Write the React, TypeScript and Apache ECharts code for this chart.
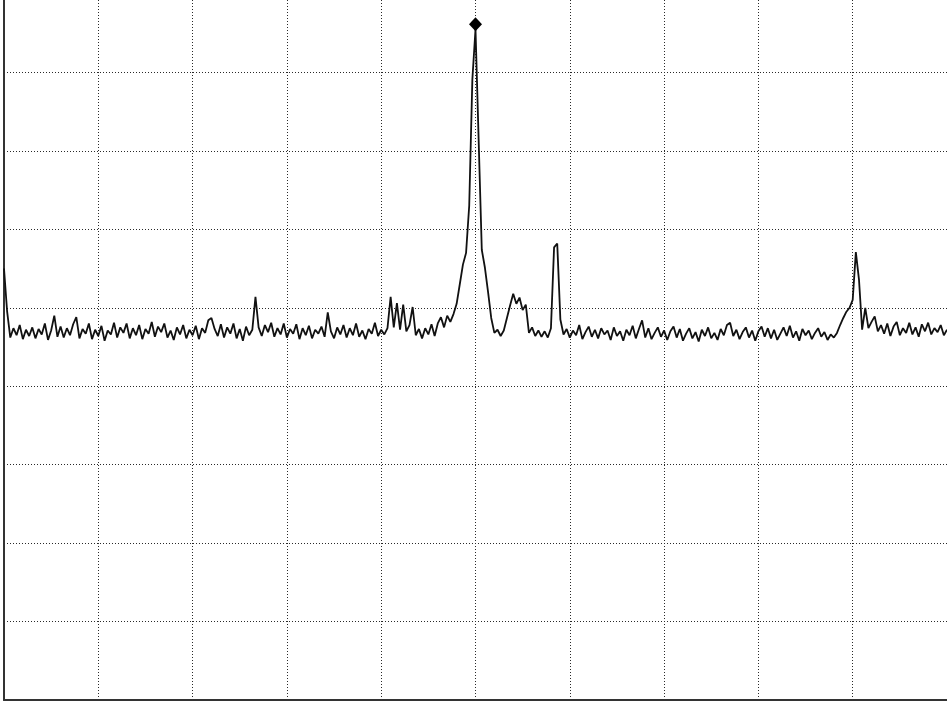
import React, { useEffect, useRef } from "react";
import * as echarts from "echarts";

// Spectrum trace levels (dBm), one per frequency bin (301 bins, 30 bins per division)
const LEVELS_DBM: number[] = [
  -35.0, -40.5, -43.8, -42.6, -43.5, -42.2, -44.0, -42.8, -43.6, -42.5,
  -43.9, -42.7, -43.4, -42.0, -44.1, -42.9, -41.0, -43.7, -42.4, -43.8,
  -42.6, -43.5, -42.1, -41.2, -43.9, -42.7, -43.3, -42.0, -44.0, -42.8,
  -43.6, -42.3, -44.2, -42.9, -43.4, -41.9, -43.8, -42.5, -43.2, -42.0,
  -43.9, -42.6, -43.5, -42.2, -44.0, -42.7, -43.3, -41.8, -43.7, -42.4,
  -43.1, -42.0, -43.8, -42.9, -44.1, -42.5, -43.4, -42.2, -43.9, -42.8,
  -43.5, -42.3, -44.0, -42.6, -43.2, -41.6, -41.3, -42.7, -43.6, -42.1,
  -43.8, -42.5, -43.3, -42.0, -43.9, -42.7, -44.2, -42.4, -43.5, -42.8,
  -38.6, -42.5, -43.6, -42.2, -43.1, -41.9, -43.7, -42.6, -43.4, -42.0,
  -43.8, -42.7, -43.3, -42.1, -44.0, -42.6, -43.5, -42.3, -43.9, -42.8,
  -43.3, -42.4, -43.7, -40.6, -43.0, -43.9, -42.5, -43.4, -42.2, -43.8,
  -42.6, -43.5, -42.0, -43.7, -42.9, -44.0, -42.7, -43.3, -41.9, -43.6,
  -42.8, -43.4, -42.6, -38.6, -42.5, -39.4, -42.8, -39.6, -43.0, -42.2,
  -39.9, -43.5, -42.7, -43.9, -42.6, -43.4, -42.1, -43.6, -42.0, -41.2,
  -42.5, -41.0, -41.8, -40.8, -39.5, -37.0, -34.5, -33.0, -27.0, -10.9,
  -4.5, -18.6, -32.6, -34.9, -38.0, -41.3, -43.2, -42.8, -43.6, -42.9,
  -41.3, -39.7, -38.2, -39.5, -38.7, -40.3, -39.6, -43.2, -42.5, -43.6,
  -42.9, -43.7, -43.0, -43.8, -42.6, -32.3, -31.8, -41.5, -43.4, -42.7,
  -43.8, -42.9, -43.5, -42.2, -44.0, -43.1, -42.4, -43.7, -42.8, -43.9,
  -42.6, -43.4, -42.9, -44.1, -42.5, -43.6, -43.0, -44.2, -42.8, -43.5,
  -42.3, -43.9, -42.7, -41.6, -43.8, -42.6, -44.0, -43.2, -42.5, -43.7,
  -42.9, -44.1, -43.0, -42.4, -43.8, -42.7, -44.2, -43.3, -42.6, -43.9,
  -43.1, -44.3, -42.8, -43.6, -42.5, -43.9, -43.2, -44.1, -42.7, -43.5,
  -42.2, -41.9, -43.6, -42.8, -44.0, -43.1, -42.5, -43.8, -42.9, -44.2,
  -43.0, -42.4, -43.7, -42.6, -43.9, -42.8, -44.1, -43.3, -42.5, -43.6,
  -42.3, -43.8, -43.0, -44.2, -42.7, -43.5, -42.9, -44.0, -43.2, -42.6,
  -43.7, -43.1, -44.1, -43.4, -43.8, -43.2, -42.2, -41.3, -40.5, -40.0,
  -39.0, -32.9, -36.4, -42.8, -40.0, -42.6, -41.8, -41.1, -43.0, -42.2,
  -43.3, -42.0, -43.6, -42.4, -41.8, -43.5, -42.6, -43.2, -41.9, -43.4,
  -42.5, -43.7, -42.1, -43.0, -41.9, -43.4, -42.6, -43.1, -42.2, -43.5,
  -42.8,
];

const BIN_COUNT = 300; // last bin index
const BINS_PER_DIV = 30;
const REF_LEVEL_DBM = 0;
const BOTTOM_LEVEL_DBM = -90;
const DB_PER_DIV = 10;
const MARKER_BIN = 150;
const MARKER_LEVEL_DBM = -4.5;

export default function App() {
  const ref = useRef<HTMLDivElement>(null);

  useEffect(() => {
    if (!ref.current) return;
    const chart = echarts.init(ref.current, null, { renderer: "svg" });
    const data = LEVELS_DBM.map((v, i) => [i, v]);
    const gridLine = { show: true, lineStyle: { color: "#2a2a2a", width: 1, type: [1, 2] as number[] } };
    chart.setOption({
      animation: false,
      backgroundColor: "#ffffff",
      grid: { left: 4, right: 0, top: 4, bottom: 2, containLabel: false },
      xAxis: {
        type: "value",
        min: 0,
        max: BIN_COUNT,
        interval: BINS_PER_DIV,
        axisLine: { show: true, onZero: false, lineStyle: { color: "#333333", width: 2 } },
        axisTick: { show: false },
        axisLabel: { show: false },
        splitLine: gridLine,
      },
      yAxis: {
        type: "value",
        min: BOTTOM_LEVEL_DBM,
        max: REF_LEVEL_DBM,
        interval: DB_PER_DIV,
        axisLine: { show: true, onZero: false, lineStyle: { color: "#333333", width: 2 } },
        axisTick: { show: false },
        axisLabel: { show: false },
        splitLine: gridLine,
      },
      series: [
        {
          type: "line",
          data,
          symbol: "none",
          showSymbol: false,
          lineStyle: { color: "#111111", width: 1.8 },
          markPoint: {
            symbol: "diamond",
            symbolSize: [13, 14],
            symbolOffset: [0, -5],
            itemStyle: { color: "#000000" },
            label: { show: false },
            data: [{ coord: [MARKER_BIN, MARKER_LEVEL_DBM] }],
          },
        },
      ],
    });
    return () => chart.dispose();
  }, []);

  return (
    <div
      ref={ref}
      style={{ position: "absolute", left: 0, top: -10, width: 947, height: 712 }}
    />
  );
}
